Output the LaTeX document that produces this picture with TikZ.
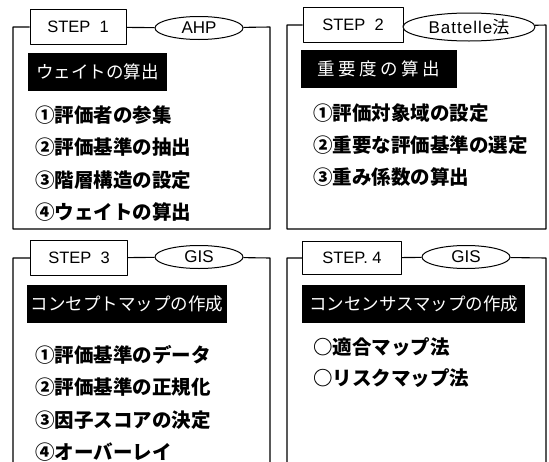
\documentclass[tikz,border=0pt]{standalone}
\usepackage{fontspec}
\setmainfont{Liberation Sans}
\newfontfamily\jp{Noto Sans CJK JP}
\usetikzlibrary{shapes.geometric}

\tikzset{
  frame/.style={line width=1.1pt},
  stepbox/.style={draw, line width=1pt, fill=white, minimum width=96pt, minimum height=35pt, inner sep=0pt, font=\fontsize{16.5}{17}\selectfont},
  tag/.style={draw, ellipse, line width=1pt, fill=white, minimum width=88pt, minimum height=23pt, inner sep=0pt, font=\fontsize{17}{17}\selectfont},
  bar/.style={fill=black, text=white, anchor=west, minimum height=38pt, inner sep=0pt, font=\jp\fontsize{17.5}{18}\selectfont},
  item/.style={anchor=west, inner sep=0pt, font=\jp\bfseries\fontsize{19.5}{20}\selectfont},
}

\begin{document}
\begin{tikzpicture}[x=1pt, y=-1pt, line join=round]
  \useasboundingbox (0,0) rectangle (549,461);
  % STEP 1 -- AHP
  \node[stepbox] (s1) at (78,27) {STEP\ \ 1};
  \node[tag] (t1) at (199,28) {AHP};
  \draw[frame] (s1) -- (13,27) -- (13,229) -- (270,229) -- (270,27) -- (t1) -- (s1);
  \node[bar, minimum width=139pt] (b1) at (28,72) {ウェイトの算出};
  \node[item] (i11) at (35,115) {①評価者の参集};
  \node[item] (i12) at (35,147) {②評価基準の抽出};
  \node[item] (i13) at (35,180) {③階層構造の設定};
  \node[item] (i14) at (35,212) {④ウェイトの算出};
  % STEP 2 -- Battelle
  \node[stepbox, minimum width=100pt] (s2) at (353,25) {STEP\ \ 2};
  \node[tag, minimum width=132pt, minimum height=28pt] (t2) at (469,27) {\addfontfeature{LetterSpace=6}Battelle{\jp 法}};
  \draw[frame] (s2) -- (287,25) -- (287,229) -- (546,229) -- (546,25) -- (t2) -- (s2);
  \node[bar, minimum width=156pt] (b2) at (301,69) {\addfontfeature{LetterSpace=20}重要度の算出};
  \node[item] (i21) at (313,113) {①評価対象域の設定};
  \node[item] (i22) at (313,145) {②重要な評価基準の選定};
  \node[item] (i23) at (313,177) {③重み係数の算出};
  % STEP 3 -- GIS
  \node[stepbox, minimum width=97pt] (s3) at (79,258) {STEP\ \ 3};
  \node[tag] (t3) at (199,257) {GIS};
  \draw[frame] (13,462) -- (13,258) -- (s3) -- (t3) -- (270,258) -- (270,462);
  \node[bar, minimum width=200pt] (b3) at (27,304) {コンセプトマップの作成};
  \node[item] (i31) at (35,355) {①評価基準のデータ};
  \node[item] (i32) at (35,387) {②評価基準の正規化};
  \node[item] (i33) at (35,420) {③因子スコアの決定};
  \node[item] (i34) at (35,452) {④オーバーレイ};
  % STEP 4 -- GIS
  \node[stepbox, minimum width=99pt, minimum height=33pt] (s4) at (352,258) {STEP.\ 4};
  \node[tag] (t4) at (466,257) {GIS};
  \draw[frame] (287,462) -- (287,258) -- (s4) -- (t4) -- (546,258) -- (546,462);
  \node[bar, minimum width=223pt] (b4) at (302,304) {コンセンサスマップの作成};
  \node[item] (i41) at (313,347) {○適合マップ法};
  \node[item] (i42) at (313,378) {○リスクマップ法};
\end{tikzpicture}
\end{document}
